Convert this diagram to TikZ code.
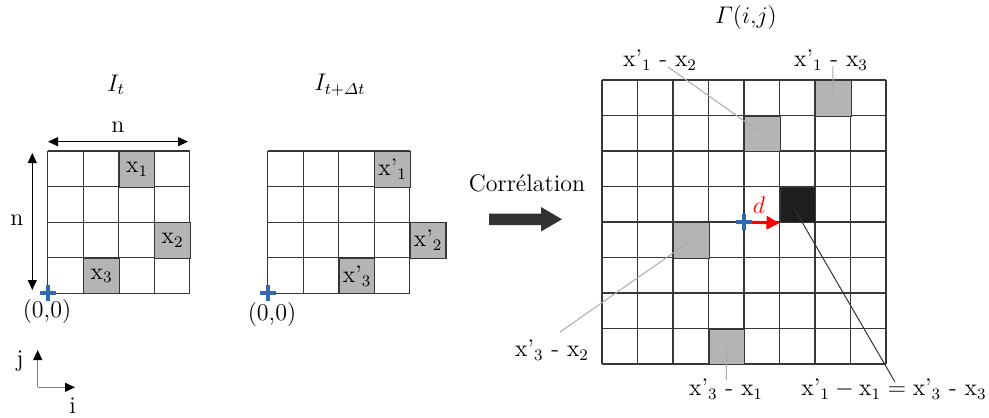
\documentclass[tikz,border=0pt]{standalone}
\usepackage{amsmath}
\usetikzlibrary{arrows.meta,calc}
\definecolor{cellgray}{RGB}{180,180,180}
\definecolor{cellblack}{RGB}{30,30,30}
\definecolor{crossblue}{RGB}{50,105,175}
\definecolor{gridcol}{RGB}{55,55,55}
\definecolor{leadgray}{RGB}{170,170,170}
\definecolor{bigarrow}{RGB}{50,50,50}
\begin{document}
\begin{tikzpicture}[x=0.5pt,y=-0.5pt,
  every node/.style={font=\fontsize{12}{14}\selectfont},
  gridline/.style={draw=gridcol,line width=0.55pt},
  graycell/.style={draw=gridcol,line width=0.55pt,fill=cellgray,minimum size=17.75pt,inner sep=0pt,anchor=north west},
  blackcell/.style={graycell,fill=cellblack},
  crossmark/.style={draw=crossblue,line width=2pt},
  leader/.style={draw=leadgray,line width=0.5pt},
  darkleader/.style={draw=black!80,line width=0.5pt},
  dimarrow/.style={draw=black,line width=0.5pt,{Triangle[length=5pt,width=4.5pt]}-{Triangle[length=5pt,width=4.5pt]}},
  axisarrow/.style={draw=gray,line width=0.6pt,-{Triangle[length=5pt,width=4.5pt,color=black]}}]
\useasboundingbox (0,0) rectangle (989,417);
\def\c{35.55}
% ---------- left grid I_t ----------
\foreach \i in {0,...,4}{
  \draw[gridline] ({47.7+\i*\c},151) -- ({47.7+\i*\c},{151+4*\c});
  \draw[gridline] (47.7,{151+\i*\c}) -- ({47.7+4*\c},{151+\i*\c});
}
\node[graycell] (a1) at ({47.7+2*\c},151) {x$_1$};
\node[graycell] (a2) at ({47.7+3*\c},{151+2*\c}) {x$_2$};
\node[graycell] (a3) at ({47.7+1*\c},{151+3*\c}) {x$_3$};
\node (It) at (116,85) {$I_t$};
\coordinate (hl) at (48,141.7);
\coordinate (hr) at (188,141.7);
\draw[dimarrow] (hl) -- (hr);
\node (nh) at (118,127) {n};
\coordinate (vt) at (32.3,153);
\coordinate (vb) at (32.3,290);
\draw[dimarrow] (vt) -- (vb);
\node (nv) at (17,220) {n};
\coordinate (o1) at (47.7,293.2);
\draw[crossmark] ($(o1)+(-8,0)$) -- ($(o1)+(8,0)$);
\draw[crossmark] ($(o1)+(0,-8)$) -- ($(o1)+(0,8)$);
\node (z1) at (47,312) {(0,0)};
% ---------- middle grid I_{t+dt} ----------
\foreach \i in {0,...,4}{
  \draw[gridline] ({267.7+\i*\c},151) -- ({267.7+\i*\c},{151+4*\c});
  \draw[gridline] (267.7,{151+\i*\c}) -- ({267.7+4*\c},{151+\i*\c});
}
\node[graycell] (b1) at ({267.7+3*\c},151) {x'$_1$};
\node[graycell] (b2) at ({267.7+4*\c},{151+2*\c}) {x'$_2$};
\node[graycell] (b3) at ({267.7+2*\c},{151+3*\c}) {x'$_3$};
\node (Itd) at (340,85) {$I_{t+\varDelta t}$};
\coordinate (o2) at (267.7,293.2);
\draw[crossmark] ($(o2)+(-8,0)$) -- ($(o2)+(8,0)$);
\draw[crossmark] ($(o2)+(0,-8)$) -- ($(o2)+(0,8)$);
\node (z2) at (272,315) {(0,0)};
% ---------- correlation arrow ----------
\node (corr) at (527,183) {Corrélation};
\fill[bigarrow] (489,213.5) -- (541,213.5) -- (541,207) -- (562,219.3) -- (541,231.5) -- (541,225) -- (489,225) -- cycle;
% ---------- right grid Gamma ----------
\def\d{35.5}
\foreach \i in {0,...,8}{
  \draw[gridline] ({602+\i*\d},80) -- ({602+\i*\d},{80+8*\d});
  \draw[gridline] (602,{80+\i*\d}) -- ({602+8*\d},{80+\i*\d});
}
\node (G) at (746,18) {$\varGamma(i{,}j)$};
\node[graycell] (g13) at ({602+6*\d},80) {};
\node[graycell] (g12) at ({602+4*\d},{80+1*\d}) {};
\node[blackcell] (gk) at ({602+5*\d},{80+3*\d}) {};
\node[graycell] (g32) at ({602+2*\d},{80+4*\d}) {};
\node[graycell] (g31) at ({602+3*\d},{80+7*\d}) {};
% labels
\node (l12) at (660,60) {x'$_1$ - x$_2$};
\node (l13) at (831,60) {x'$_1$ - x$_3$};
\node (l32) at (552,350) {x'$_3$ - x$_2$};
\node (l31) at (726,389) {x'$_3$ - x$_1$};
\node (lk) at (894,389) {$\text{x'}_1-\text{x}_1=\text{x'}_3$ - x$_3$};
\coordinate (e12) at (668,67);
\coordinate (e13) at (832.75,66);
\coordinate (e32) at (560,332);
\coordinate (e31) at (726.25,380);
\coordinate (ek) at (895,382);
\coordinate (kin) at (795,210);
\draw[leader] (e12) -- (g12.center);
\draw[leader] (e13) -- (g13.center);
\draw[leader] (e32) -- (g32.center);
\draw[leader] (g31.center) -- (e31);
\draw[darkleader] (kin) -- (ek);
% displacement
\coordinate (o3) at ({602+4*\d},{80+4*\d});
\draw[red,line width=1.5pt,-{Triangle[length=6.5pt,width=6.5pt]}] (o3) -- (gk.south west);
\node[text=red] (dl) at (759,205) {$d$};
\draw[crossmark] ($(o3)+(-8,0)$) -- ($(o3)+(8,0)$);
\draw[crossmark] ($(o3)+(0,-8)$) -- ($(o3)+(0,8)$);
% ---------- axes ----------
\coordinate (ax) at (37.7,387.3);
\coordinate (ay) at (37.7,350);
\coordinate (axr) at (75,387.3);
\draw[axisarrow] (ax) -- (ay);
\draw[axisarrow] (ax) -- (axr);
\node (jl) at (20,361) {j};
\node (il) at (72.7,406) {i};
\end{tikzpicture}
\end{document}
